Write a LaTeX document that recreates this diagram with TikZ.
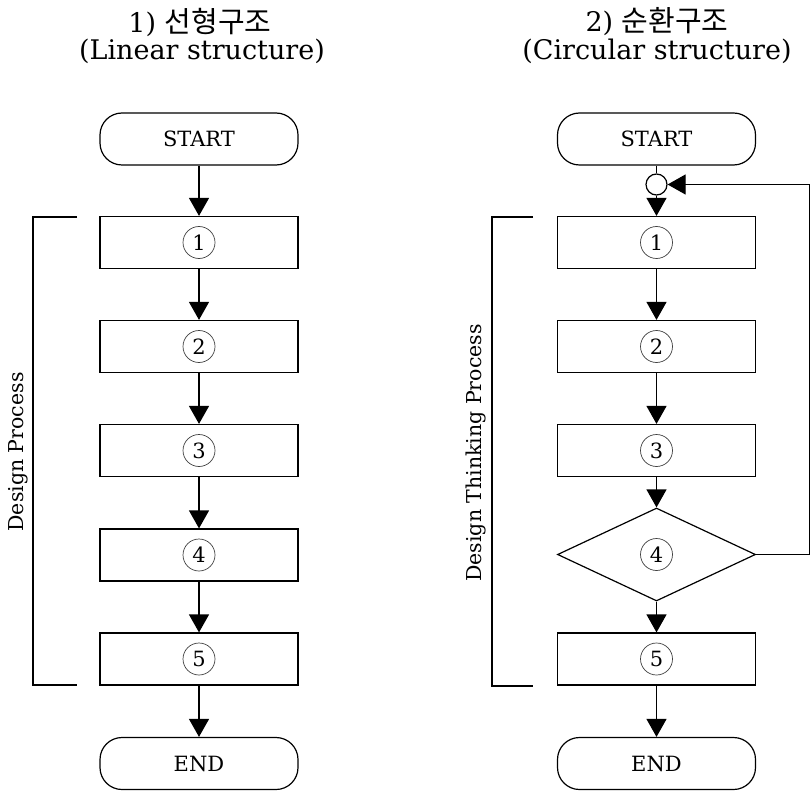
\documentclass[tikz,border=0pt]{standalone}
\usepackage{fontspec}
\setmainfont{DejaVu Serif}
\newfontfamily\krfont{Noto Sans CJK KR}
\usetikzlibrary{arrows.meta,shapes.geometric}
\begin{document}
\begin{tikzpicture}[x=1pt,y=-1pt,
  line width=1.2pt,
  term/.style={draw,rounded corners=22pt,minimum width=198pt,minimum height=52pt,font=\fontsize{21}{23}\selectfont},
  stepbox/.style={draw,minimum width=198pt,minimum height=52pt},
  num/.style={draw=black!75,circle,line width=0.7pt,inner sep=0pt,minimum size=32pt,font=\fontsize{21}{23}\selectfont},
  flow/.style={-{Triangle[width=20pt,length=18pt]}},
  title/.style={font=\fontsize{27}{30}\selectfont},
  side/.style={rotate=90,font=\fontsize{20.5}{23}\selectfont}]
\useasboundingbox (0,0) rectangle (810,791);

% titles
\node[title] (t1a) at (200,22) {1) {\krfont\fontsize{29}{31}\selectfont 선형구조}};
\node[title] (t1b) at (202,51) {(Linear structure)};
\node[title] (t2a) at (657,22) {2) {\krfont\fontsize{29}{31}\selectfont 순환구조}};
\node[title] (t2b) at (657,51) {(Circular structure)};

% linear structure
\node[term] (Ls) at (199,139) {START};
\node[stepbox] (L1) at (199,242.5) {}; \node[num] (n1) at (L1) {1};
\node[stepbox] (L2) at (199,346.5) {}; \node[num] (n2) at (L2) {2};
\node[stepbox] (L3) at (199,450.5) {}; \node[num] (n3) at (L3) {3};
\node[stepbox] (L4) at (199,555) {}; \node[num] (n4) at (L4) {4};
\node[stepbox] (L5) at (199,659) {}; \node[num] (n5) at (L5) {5};
\node[term] (Le) at (199,763.5) {END};
\foreach \a/\b in {Ls/L1,L1/L2,L2/L3,L3/L4,L4/L5,L5/Le}
  \draw[flow] (\a) -- (\b);

% bracket for the linear process
\coordinate (Lbt) at (77,217);
\coordinate (Lbb) at (77,685);
\draw (Lbt) -- (33,217) -- (33,685) -- (Lbb);
\node[side] (Ltxt) at (18,452) {Design Process};

% circular structure
\node[term] (Rs) at (656.5,139) {START};
\node[draw,circle,inner sep=0pt,minimum size=21pt] (Rj) at (656.5,184.5) {};
\node[stepbox] (R1) at (656.5,242.5) {}; \node[num] (m1) at (R1) {1};
\node[stepbox] (R2) at (656.5,346.5) {}; \node[num] (m2) at (R2) {2};
\node[stepbox] (R3) at (656.5,450.5) {}; \node[num] (m3) at (R3) {3};
\node[draw,diamond,aspect=2.13,minimum width=198pt,minimum height=93pt,inner sep=0pt] (R4) at (656.5,554.5) {};
\node[num] (m4) at (R4) {4};
\node[stepbox] (R5) at (656.5,659) {}; \node[num] (m5) at (R5) {5};
\node[term] (Re) at (656.5,763.5) {END};
\draw (Rs) -- (Rj);
\draw[flow] (Rj) -- (R1);
\draw[flow] (R1) -- (R2);
\draw[flow] (R2) -- (R3);
\draw[flow] (R3) -- (R4);
\draw[flow] (R4) -- (R5);
\draw[flow] (R5) -- (Re);

% feedback loop back to the junction
\coordinate (Rfb) at (809.5,554.5);
\coordinate (Rft) at (809.5,184.5);
\draw[flow] (R4.east) -- (Rfb) -- (Rft) -- (Rj);

% bracket for the design thinking process
\coordinate (Rbt) at (533,217);
\coordinate (Rbb) at (533,686);
\draw (Rbt) -- (492,217) -- (492,686) -- (Rbb);
\node[side] (Rtxt) at (476,453) {Design Thinking Process};
\end{tikzpicture}
\end{document}
